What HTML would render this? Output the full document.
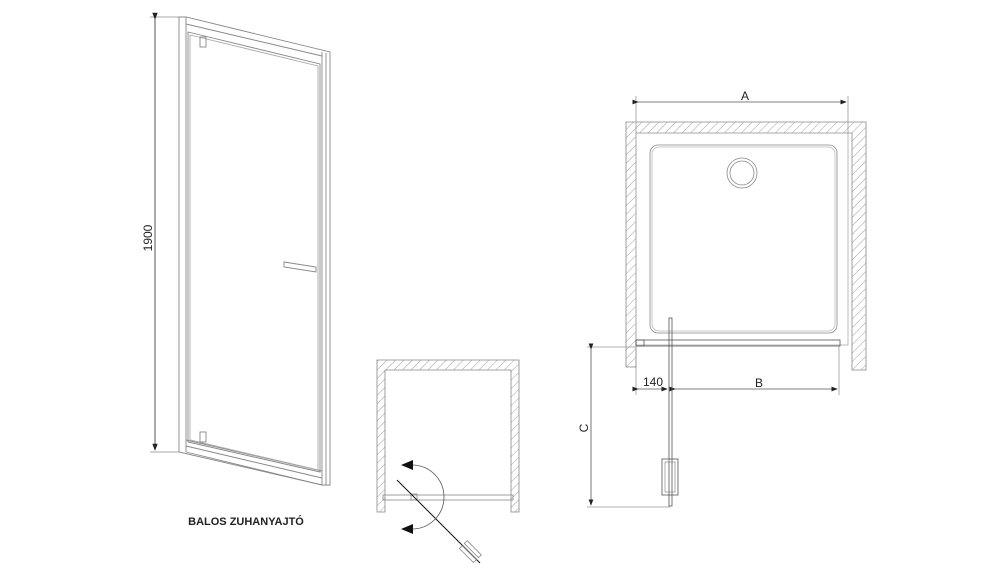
<!DOCTYPE html>
<html><head><meta charset="utf-8"><style>
html,body{margin:0;padding:0;background:#fff;width:1000px;height:584px;overflow:hidden}
svg{display:block}
text{font-family:"Liberation Sans",sans-serif;fill:#222}
</style></head><body>
<svg width="1000" height="584" viewBox="0 0 1000 584" xmlns="http://www.w3.org/2000/svg">
<defs>
<pattern id="h" width="6" height="6" patternUnits="userSpaceOnUse" patternTransform="rotate(45)">
<line x1="0" y1="0" x2="0" y2="6" stroke="#888" stroke-width="0.8"/>
</pattern>
<marker id="ar" markerWidth="8" markerHeight="6" refX="7" refY="3" orient="auto"><path d="M0,0 L8,3 L0,6z" fill="#222"/></marker>
</defs>

<!-- Door elevation -->
<g fill="none" stroke="#888" stroke-width="0.9">
<line x1="150" y1="17" x2="180" y2="17" stroke="#aaa"/>
<line x1="150" y1="452" x2="180" y2="452" stroke="#aaa"/>
<line x1="155" y1="19" x2="155" y2="450" stroke="#444" marker-start="url(#ar)" marker-end="url(#ar)"/>
<polygon points="179,17 186,17 330,52 330,485 322,485 179,452"/>
<line x1="186" y1="17" x2="186" y2="452"/>
<line x1="186" y1="24" x2="322" y2="56"/>
<line x1="322" y1="52" x2="322" y2="485"/>
<line x1="326" y1="53" x2="326" y2="485"/>
<line x1="186" y1="440" x2="322" y2="471"/>
<line x1="186" y1="446" x2="322" y2="478"/>
<line x1="186" y1="452" x2="322" y2="485"/>
<polygon points="188,32 320,64 320,472 188,442"/>
<polygon points="190,35 318,66 318,470 190,440" stroke="#aaa"/>
<rect x="200" y="37" width="6" height="10"/>
<rect x="200" y="432" width="6" height="10"/>
<polygon points="284,262 316,267 316,272 284,267"/>
</g>
<text x="0" y="0" font-size="12" transform="translate(152,238) rotate(-90)" text-anchor="middle">1900</text>
<text x="246" y="525" font-size="11" font-weight="bold" text-anchor="middle">BALOS ZUHANYAJTÓ</text>

<!-- Middle plan -->
<g stroke="#888" stroke-width="0.8">
<path d="M377,360 H519 V512 H511 V370 H385 V512 H377 Z" fill="url(#h)"/>
<rect x="383" y="495" width="130" height="5" fill="none"/>
<rect x="411" y="494" width="6" height="6" fill="none"/>
</g>
<line x1="397" y1="480" x2="480" y2="563" stroke="#111" stroke-width="1"/>
<path d="M412,465 A32,32 0 0 1 412,529" fill="none" stroke="#555" stroke-width="0.8"/>
<path d="M401,465 L413,460 L413,470Z" fill="#111"/>
<path d="M401,529 L413,524 L413,534Z" fill="#111"/>
<g fill="none" stroke="#888" stroke-width="0.8" transform="rotate(45 470 552)">
<rect x="460" y="546" width="20" height="4"/>
<rect x="460" y="553" width="20" height="4"/>
</g>

<!-- Right plan -->
<g stroke="#888" stroke-width="0.8">
<path d="M626,122 H866 V370 H852 V133 H636 V367 H626 Z" fill="url(#h)"/>
<rect x="636" y="133" width="212" height="212" fill="none" stroke="#aaa"/>
<rect x="650" y="145" width="187" height="188" rx="8" fill="none"/>
<rect x="652" y="147" width="183" height="184" rx="7" fill="none" stroke="#bbb"/>
<circle cx="742" cy="173" r="15" fill="none"/>
<circle cx="742" cy="173" r="12" fill="none"/>
<rect x="636" y="340" width="204" height="6" fill="none" stroke="#555"/>
<rect x="636" y="340" width="8" height="6" fill="none" stroke="#555"/>
</g>
<g stroke="#999" stroke-width="0.8">
<line x1="636" y1="96" x2="636" y2="133"/>
<line x1="848" y1="96" x2="848" y2="133"/>
<line x1="636" y1="346" x2="636" y2="395"/>
<line x1="839" y1="346" x2="839" y2="395"/>
<line x1="587" y1="347" x2="636" y2="347"/>
<line x1="587" y1="507" x2="670" y2="507"/>
</g>
<line x1="638" y1="102" x2="846" y2="102" stroke="#555" stroke-width="0.8" marker-start="url(#ar)" marker-end="url(#ar)"/>
<line x1="638" y1="389" x2="667" y2="389" stroke="#555" stroke-width="0.8" marker-start="url(#ar)" marker-end="url(#ar)"/>
<line x1="675" y1="389" x2="837" y2="389" stroke="#555" stroke-width="0.8" marker-start="url(#ar)" marker-end="url(#ar)"/>
<line x1="591" y1="349" x2="591" y2="505" stroke="#555" stroke-width="0.8" marker-start="url(#ar)" marker-end="url(#ar)"/>
<rect x="669" y="318" width="3" height="188" fill="none" stroke="#555" stroke-width="0.8"/>
<rect x="662" y="459" width="16" height="36" fill="none" stroke="#555" stroke-width="0.8"/>
<rect x="665" y="462" width="10" height="30" fill="none" stroke="#777" stroke-width="0.6"/>
<text x="745" y="100" font-size="12" text-anchor="middle">A</text>
<text x="653" y="386" font-size="12" text-anchor="middle">140</text>
<text x="759" y="387" font-size="12" text-anchor="middle">B</text>
<text x="0" y="0" font-size="12" transform="translate(588,428) rotate(-90)" text-anchor="middle">C</text>
</svg>
</body></html>
